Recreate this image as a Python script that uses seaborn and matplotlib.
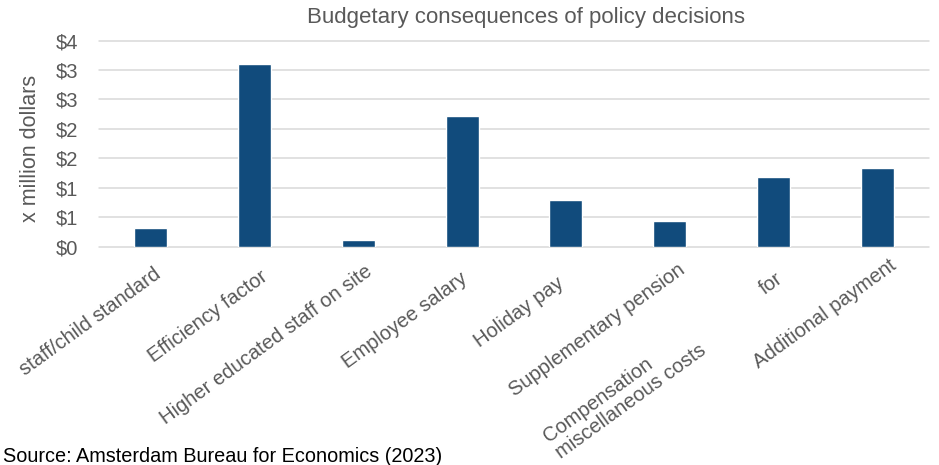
import numpy as np
import matplotlib
matplotlib.use("Agg")
import matplotlib.pyplot as plt
from matplotlib.ticker import FixedLocator, FuncFormatter
from matplotlib.transforms import ScaledTranslation
import seaborn as sns

# Budget items and their effect (million dollars)
tick_labels = [
    "staff/child standard",
    "Efficiency factor",
    "Higher educated staff on site",
    "Employee salary",
    "Holiday pay",
    "Supplementary pension",
    "for",
    "Additional payment",
]
values = [0.32, 3.11, 0.11, 2.22, 0.79, 0.44, 1.18, 1.33]
y_ticks = [0.0, 0.5, 1.0, 1.5, 2.0, 2.5, 3.0, 3.5]
extra_label = "Compensation\nmiscellaneous costs"

title = "Budgetary consequences of policy decisions"
y_title = "x million dollars"
source = "Source: Amsterdam Bureau for Economics (2023)"

BAR = "#114B7C"
GRID = "#D9D9D9"
TEXT = "#595959"

sns.set_theme(style="white")
plt.rcParams["font.family"] = ["Liberation Sans", "DejaVu Sans"]

W, H, DPI = 939, 465, 100
fig = plt.figure(figsize=(W / DPI, H / DPI), dpi=DPI)
left, right, bottom, top = 99, 929, 246.7, 40.6
ax = fig.add_axes([left / W, 1 - bottom / H, (right - left) / W, (bottom - top) / H])

sns.barplot(x=list(range(len(values))), y=values, color=BAR, width=0.32,
            saturation=1, ax=ax, zorder=3)

ax.set_ylim(0, 3.5)
ax.set_xlim(-0.5, len(values) - 0.5)
ax.yaxis.set_major_locator(FixedLocator(y_ticks))
ax.yaxis.set_major_formatter(FuncFormatter(lambda v, p: f"${int(np.floor(v + 0.5))}"))
ax.grid(axis="y", color=GRID, linewidth=1.1, zorder=0)
ax.grid(axis="x", visible=False)
for gl in ax.get_ygridlines():
    gl.set_clip_on(False)
for s in ax.spines.values():
    s.set_visible(False)
ax.tick_params(axis="y", length=0, pad=15, labelsize=14.5, labelcolor=TEXT)
ax.tick_params(axis="x", length=0)
ax.set_xticks(range(len(values)))
ax.set_xticklabels([])
ax.set_xlabel("")

ax.set_ylabel(y_title, fontsize=15.5, color=TEXT)
ax.yaxis.label.set_va("center")
ax.yaxis.set_label_coords((31 - left) / (right - left), 0.476)

# Rotated category labels, each anchored at its upper-right end below its bar
offsets = [(2, 18), (5, 20), (6, 15), (-2, 22), (-10, 27), (8, 13), (2, 22), (12, 9)]
for i, (lab, (dx, dy)) in enumerate(zip(tick_labels, offsets)):
    tr = ax.get_xaxis_transform() + ScaledTranslation(dx / DPI, -dy / DPI, fig.dpi_scale_trans)
    ax.text(i, 0, lab, transform=tr, rotation=36, rotation_mode="anchor",
            ha="right", va="top", fontsize=14.5, color=TEXT, clip_on=False)

fig.text(560 / W, 1 - 458 / H, extra_label, rotation=36, rotation_mode="anchor",
         ha="left", va="baseline", multialignment="left", fontsize=14.5,
         color=TEXT, linespacing=1.1)

fig.text(526 / W, 1 - 17 / H, title, ha="center", va="center", fontsize=16, color=TEXT)
fig.text(3 / W, 1 - 462 / H, source, ha="left", va="baseline", fontsize=14.3, color="black")

fig.savefig("out.png", dpi=DPI)
